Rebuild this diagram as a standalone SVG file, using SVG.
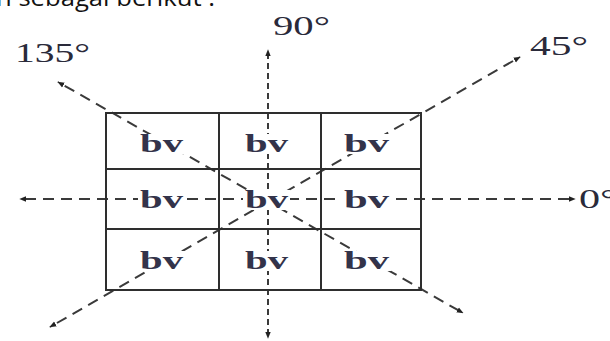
<svg xmlns="http://www.w3.org/2000/svg" width="610" height="341" viewBox="0 0 610 341">
<defs>
<marker id="ah" viewBox="0 0 10 10" refX="9" refY="5" markerWidth="7" markerHeight="7" markerUnits="userSpaceOnUse" orient="auto">
<path d="M0,1 L10,5 L0,9 z" fill="#222"/>
</marker>
<style>
.dash{stroke:#3a3a3a;stroke-width:2;fill:none;stroke-dasharray:11 7;marker-end:url(#ah)}
.vdash{stroke:#3a3a3a;stroke-width:2;fill:none;stroke-dasharray:6 4;marker-end:url(#ah)}
.grid{stroke:#2e2e2e;stroke-width:2;fill:none}
.bg{fill:#fff}
.lbl{font-family:"Liberation Serif","Times New Roman",serif;font-size:27px;fill:#2a2a3a}
.bv{font-family:"Liberation Serif","Times New Roman",serif;font-size:25px;font-weight:bold;fill:#33334a}
.top{font-family:"Open Sans","Liberation Sans",sans-serif;font-size:24px;fill:#111}
</style>
</defs>
<rect width="610" height="341" fill="#fff"/>
<text class="top" x="-4" y="6" textLength="219" lengthAdjust="spacingAndGlyphs">n sebagai berikut :</text>
<g id="connectors">
<line class="dash" x1="270" y1="199" x2="20" y2="199"/>
<line class="dash" x1="270" y1="199" x2="575" y2="199"/>
<line class="vdash" x1="268" y1="199" x2="268" y2="50"/>
<line class="vdash" x1="268" y1="199" x2="268" y2="338"/>
<line class="dash" x1="262" y1="198" x2="58" y2="82"/>
<line class="dash" x1="262" y1="198" x2="463" y2="313"/>
<line class="dash" x1="285" y1="192" x2="520" y2="57"/>
<line class="dash" x1="285" y1="192" x2="50" y2="327"/>
</g>
<g id="cells">
<rect class="bg" x="138" y="134" width="47" height="20"/>
<rect class="bg" x="243" y="134" width="47" height="20"/>
<rect class="bg" x="342" y="134" width="49" height="20"/>
<rect class="bg" x="138" y="190" width="47" height="20"/>
<rect class="bg" x="243" y="190" width="47" height="20"/>
<rect class="bg" x="342" y="190" width="49" height="20"/>
<rect class="bg" x="138" y="251" width="47" height="20"/>
<rect class="bg" x="243" y="251" width="47" height="20"/>
<rect class="bg" x="342" y="251" width="49" height="20"/>
<text class="bv" x="140" y="152" textLength="43" lengthAdjust="spacingAndGlyphs">bv</text>
<text class="bv" x="245" y="152" textLength="43" lengthAdjust="spacingAndGlyphs">bv</text>
<text class="bv" x="344" y="152" textLength="45" lengthAdjust="spacingAndGlyphs">bv</text>
<text class="bv" x="140" y="208" textLength="43" lengthAdjust="spacingAndGlyphs">bv</text>
<text class="bv" x="245" y="208" textLength="43" lengthAdjust="spacingAndGlyphs">bv</text>
<text class="bv" x="344" y="208" textLength="45" lengthAdjust="spacingAndGlyphs">bv</text>
<text class="bv" x="140" y="269" textLength="43" lengthAdjust="spacingAndGlyphs">bv</text>
<text class="bv" x="245" y="269" textLength="43" lengthAdjust="spacingAndGlyphs">bv</text>
<text class="bv" x="344" y="269" textLength="45" lengthAdjust="spacingAndGlyphs">bv</text>
</g>
<g id="grid">
<rect class="grid" x="106" y="113" width="315" height="177"/>
<line class="grid" x1="219" y1="113" x2="219" y2="290"/>
<line class="grid" x1="321" y1="113" x2="321" y2="290"/>
<line class="grid" x1="106" y1="169" x2="421" y2="169"/>
<line class="grid" x1="106" y1="229" x2="421" y2="229"/>
</g>
<g id="labels">
<text class="lbl" x="15" y="62" textLength="75" lengthAdjust="spacingAndGlyphs">135°</text>
<text class="lbl" x="273" y="35" textLength="57" lengthAdjust="spacingAndGlyphs">90°</text>
<text class="lbl" x="530" y="55" textLength="58" lengthAdjust="spacingAndGlyphs">45°</text>
<text class="lbl" x="579" y="208" textLength="38" lengthAdjust="spacingAndGlyphs">0°</text>
</g>
</svg>
